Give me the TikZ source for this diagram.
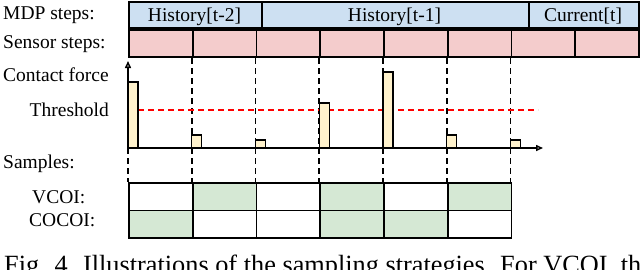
\documentclass[tikz,border=0pt]{standalone}
\usepackage{fontspec}
\setmainfont{Liberation Serif}
\usetikzlibrary{arrows.meta}
\definecolor{mdpblue}{HTML}{CDE0F2}
\definecolor{sensorpink}{HTML}{F4CCCC}
\definecolor{samplegreen}{HTML}{D5E8D4}
\definecolor{baryellow}{HTML}{FFF2CC}
\tikzset{
  lbl/.style={font=\fontsize{19.5}{23}\selectfont, inner sep=0pt},
  cellbox/.style={draw=black, line width=1.8pt, inner sep=0pt, anchor=north west},
  mdpcell/.style={cellbox, fill=mdpblue, minimum height=26pt},
  sensorcell/.style={cellbox, fill=sensorpink, minimum width=63.75pt, minimum height=27pt},
  samplecell/.style={cellbox, minimum width=63.75pt, minimum height=27.5pt},
  forcebar/.style={draw=black, line width=1.4pt, fill=baryellow},
  tickline/.style={draw=black, line width=1.7pt, dash pattern=on 6pt off 4pt},
  thresh/.style={draw=red, line width=1.7pt, dash pattern=on 6pt off 4pt},
  axisline/.style={draw=black, line width=1.5pt}
}
\begin{document}
\begin{tikzpicture}[x=1pt,y=-1pt]
\useasboundingbox (0,0) rectangle (640,269);
% row labels
\node[lbl, anchor=base west] (lmdp) at (3,19) {MDP steps:};
\node[lbl, anchor=base west] (lsen) at (3,48) {Sensor steps:};
\node[lbl, anchor=base west] (lcf) at (3,81.5) {Contact force};
\node[lbl, anchor=base east] (lth) at (109,116.5) {Threshold};
\node[lbl, anchor=base west] (lsam) at (3,168) {Samples:};
\node[lbl, anchor=base west] (lv) at (32,203) {VCOI:};
\node[lbl, anchor=base west] (lc) at (29,226) {COCOI:};
% MDP row
\node[mdpcell, minimum width=133pt] (m1) at (128,1) {};
\node[mdpcell, minimum width=267pt] (m2) at (261,1) {};
\node[mdpcell, minimum width=110pt] (m3) at (528,1) {};
\node[lbl, anchor=base] (t1) at (194.5,21.5) {History[t-2]};
\node[lbl, anchor=base] (t2) at (394.5,21.5) {History[t-1]};
\node[lbl, anchor=base] (t3) at (583,21.5) {Current[t]};
% sensor row
\foreach \i in {0,...,7}{
  \node[sensorcell] (s\i) at ({128+63.75*\i},29) {};
}
% tick coordinates
\foreach \i in {0,...,7}{
  \coordinate (top\i) at ({128+63.75*\i},58);
  \coordinate (ax\i) at ({128+63.75*\i},148);
  \coordinate (bot\i) at ({128+63.75*\i},182);
}
% dashed vertical guides
\foreach \i in {1,...,6}{
  \draw[tickline] (top\i) -- (bot\i);
}
\draw[tickline] (ax0) -- (bot0);
% threshold
\coordinate (thA) at (128,110);
\coordinate (thB) at (538,110);
\draw[thresh] (thA) -- (thB);
% bars
\foreach \i/\h in {0/82,1/135,2/140,3/103,4/72,5/135,6/140}{
  \draw[forcebar] ({128+63.75*\i},148) rectangle ({138+63.75*\i},\h);
}
% axes
\coordinate (yend) at (128,61);
\coordinate (xend) at (543,148);
\draw[axisline, -{Triangle[open, length=7pt, width=6pt]}] (ax0) -- (yend);
\draw[axisline, -{Triangle[open, length=7pt, width=6pt]}] (ax0) -- (xend);
% samples
\foreach \i/\c in {0/white,1/samplegreen,2/white,3/samplegreen,4/white,5/samplegreen}{
  \node[samplecell, fill=\c] (v\i) at ({128+63.75*\i},182) {};
}
\foreach \i/\c in {0/samplegreen,1/white,2/white,3/samplegreen,4/samplegreen,5/white}{
  \node[samplecell, fill=\c] (c\i) at ({128+63.75*\i},209.5) {};
}
% caption (cut by page edge, as in the reference)
\node[font=\fontsize{26.3}{30}\selectfont, inner sep=0pt, anchor=base west] (cap) at (4,273) {Fig. 4. Illustrations of the sampling strategies. For VCOI, th};
\end{tikzpicture}
\end{document}
